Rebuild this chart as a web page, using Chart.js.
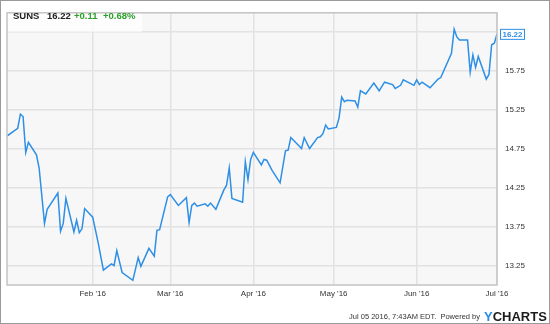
<!DOCTYPE html>
<html>
<head>
<meta charset="utf-8">
<script src="https://cdn.jsdelivr.net/npm/chart.js@4.4.1/dist/chart.umd.min.js"></script>
<style>
  html, body { margin: 0; padding: 0; background: #fff; }
  canvas { display: block; }
</style>
</head>
<body>
<canvas id="sunsChart" width="550" height="324"></canvas>
<script>
// day of year 2016 (Jan 1 = 0), closing prices
const days = [-1, 3, 4, 5, 6, 7, 10, 11, 13, 14, 18, 19, 20, 21, 24, 25, 26, 27, 28,
  31, 33, 35, 38, 39, 40, 42, 46, 48, 49, 52, 54, 55, 56, 59,
  60, 63, 66, 67, 68, 69, 70, 73, 74, 75, 77, 80, 81, 82, 83, 87, 88, 89, 90,
  91, 94, 95, 96, 98, 101, 103, 104, 105, 109, 110, 112, 115, 116, 117, 118, 119,
  122, 123, 124, 125, 126, 129, 130, 131, 133, 136, 138, 140, 143, 144, 146, 147, 151,
  152, 153, 154, 157, 160, 161, 165, 166, 167, 168, 171, 172, 173, 174, 175, 178, 179, 180, 181,
  182];
const prices = [14.91, 15.01, 15.19, 15.16, 14.70, 14.83, 14.67, 14.50, 13.79, 13.97, 14.18, 13.69, 13.79, 14.11, 13.68, 13.83, 13.67, 13.72, 13.98,
  13.87, 13.55, 13.19, 13.27, 13.25, 13.44, 13.16, 13.06, 13.35, 13.24, 13.47, 13.37, 13.70, 13.71, 14.13,
  14.16, 14.02, 14.12, 13.80, 14.02, 14.05, 14.01, 14.04, 14.01, 14.05, 13.97, 14.22, 14.28, 14.50, 14.11, 14.06, 14.58, 14.35, 14.61,
  14.70, 14.54, 14.61, 14.60, 14.47, 14.31, 14.72, 14.73, 14.89, 14.75, 14.89, 14.75, 14.89, 14.90, 14.94, 15.05, 15.00,
  15.02, 15.14, 15.41, 15.35, 15.37, 15.36, 15.28, 15.49, 15.45, 15.59, 15.49, 15.60, 15.57, 15.52, 15.56, 15.63, 15.56,
  15.63, 15.57, 15.60, 15.53, 15.64, 15.66, 15.97, 16.28, 16.18, 16.14, 16.14, 15.73, 15.95, 15.79, 15.93, 15.64, 15.70, 16.08, 16.10,
  16.22];

const monthDays = [31, 60, 91, 121, 152, 182];
const monthLabels = ["Feb '16", "Mar '16", "Apr '16", "May '16", "Jun '16", "Jul '16"];
const priceTicks = [13.25, 13.75, 14.25, 14.75, 15.25, 15.75, 16.25];

const FONT = "'Liberation Sans', Arial, sans-serif";
const LINE_COLOR = "#2e8fe6";

const ycDecor = {
  id: "ycDecor",
  beforeDraw(chart) {
    const { ctx, chartArea: a } = chart;
    ctx.save();
    ctx.fillStyle = "#ffffff";
    ctx.fillRect(0, 0, chart.width, chart.height);
    ctx.fillStyle = "#f7f7f7";
    ctx.fillRect(a.left, a.top, a.right - a.left, a.bottom - a.top);
    ctx.restore();
  },
  afterDraw(chart) {
    const { ctx, chartArea: a } = chart;
    ctx.save();

    // plot border
    ctx.strokeStyle = "#c4c4c4";
    ctx.lineWidth = 1.5;
    ctx.strokeRect(a.left, a.top, a.right - a.left, a.bottom - a.top);

    // outer frame
    ctx.strokeStyle = "#9a9a9a";
    ctx.lineWidth = 1;
    ctx.strokeRect(0.5, 0.5, chart.width - 1, chart.height - 1);

    // title box
    ctx.fillStyle = "rgba(255,255,255,0.75)";
    ctx.fillRect(a.left + 1, a.top + 1, 134, 18);
    ctx.textBaseline = "alphabetic";
    ctx.textAlign = "left";
    ctx.font = "bold 9.5px " + FONT;
    ctx.fillStyle = "#222";
    ctx.fillText("SUNS", 13, 19);
    ctx.fillText("16.22", 47, 19);
    ctx.fillStyle = "#2b9e2b";
    ctx.fillText("+0.11", 74, 19);
    ctx.fillText("+0.68%", 103, 19);

    // last price flag
    const yPos = chart.scales.y.getPixelForValue(prices[prices.length - 1]);
    ctx.fillStyle = "#ffffff";
    ctx.fillRect(500.5, yPos - 4.5, 24, 10);
    ctx.strokeStyle = LINE_COLOR;
    ctx.lineWidth = 1;
    ctx.strokeRect(500.5, yPos - 4.5, 24, 10);
    ctx.fillStyle = LINE_COLOR;
    ctx.font = "bold 8px " + FONT;
    ctx.textAlign = "center";
    ctx.textBaseline = "middle";
    ctx.fillText(prices[prices.length - 1].toFixed(2), 512.5, yPos + 0.5);

    // footer
    ctx.textBaseline = "alphabetic";
    ctx.textAlign = "right";
    ctx.font = "7.5px " + FONT;
    ctx.fillStyle = "#333";
    ctx.fillText("Jul 05 2016, 7:43AM EDT.  Powered by", 480, 319);
    ctx.textAlign = "left";
    ctx.font = "bold 13px " + FONT;
    ctx.fillStyle = "#2a8be2";
    ctx.fillText("Y", 484, 321);
    const yw = ctx.measureText("Y").width;
    ctx.fillStyle = "#1b1b1b";
    ctx.fillText("CHARTS", 484 + yw, 321);
    ctx.restore();
  }
};

const ctx = document.getElementById("sunsChart");
new Chart(ctx, {
  type: "line",
  data: {
    datasets: [{
      data: days.map((d, i) => ({ x: d, y: prices[i] })),
      borderColor: LINE_COLOR,
      borderWidth: 1.5,
      pointRadius: 0,
      tension: 0,
      fill: false
    }]
  },
  options: {
    responsive: false,
    animation: false,
    devicePixelRatio: 1,
    layout: { padding: { left: 7, top: 7, right: 0, bottom: 0 } },
    plugins: { legend: { display: false }, tooltip: { enabled: false } },
    scales: {
      x: {
        type: "linear",
        min: -1,
        max: 182,
        afterBuildTicks: (axis) => { axis.ticks = monthDays.map(v => ({ value: v })); },
        afterFit: (axis) => { axis.height = 39; },
        grid: { color: "#e2e2e2", lineWidth: 1.5, drawTicks: false },
        border: { display: false },
        ticks: {
          autoSkip: false,
          maxRotation: 0,
          padding: 4,
          color: "#333",
          font: { family: FONT, size: 8 },
          callback: (v, i) => monthLabels[i]
        }
      },
      y: {
        position: "right",
        min: 13.0,
        max: 16.49,
        afterBuildTicks: (axis) => { axis.ticks = priceTicks.map(v => ({ value: v })); },
        afterFit: (axis) => { axis.width = 53; },
        grid: { color: "#e2e2e2", lineWidth: 1.5, drawTicks: false },
        border: { display: false },
        ticks: {
          padding: 8,
          color: "#333",
          font: { family: FONT, size: 8 },
          callback: (v) => (v > 16 ? "" : v.toFixed(2))
        }
      }
    }
  },
  plugins: [ycDecor]
});
</script>
</body>
</html>
